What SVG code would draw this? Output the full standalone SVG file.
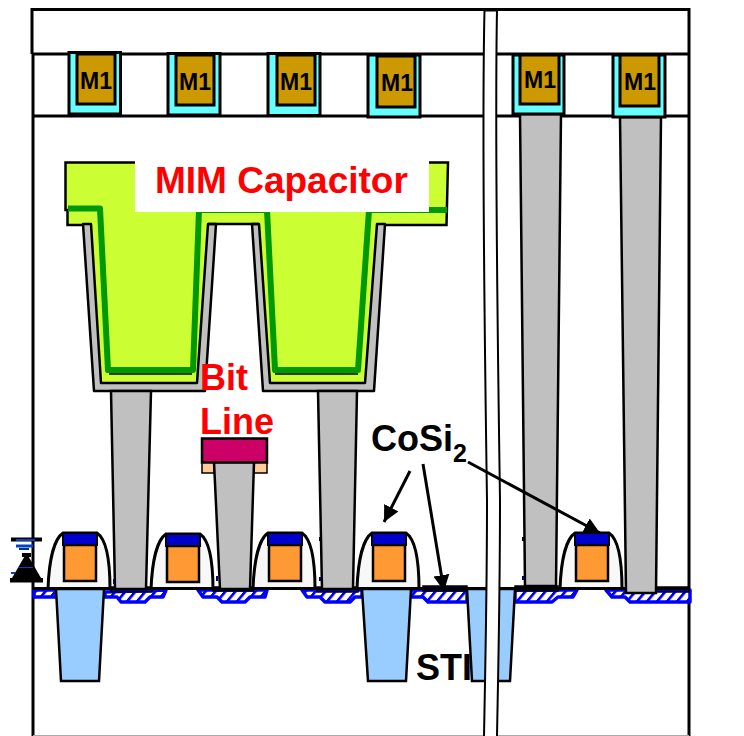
<svg xmlns="http://www.w3.org/2000/svg" width="744" height="736" viewBox="0 0 744 736">
<style>
.ln{fill:none;stroke:#000;stroke-width:3}
.cy{fill:#66FFFF;stroke:#000;stroke-width:3}
.au{fill:#CC9900;stroke:#000;stroke-width:3}
.via{fill:#C0C0C0;stroke:#000;stroke-width:2.5}
.sti{fill:#99CCFF;stroke:#000;stroke-width:2.5}
.imp{fill:url(#hatch);stroke:#0000FF;stroke-width:3.5;stroke-linejoin:round}
.bar{fill:#0000CC;stroke:#000;stroke-width:1.5}
.lime{fill:#CCFF33}
.green{fill:none;stroke:#009900;stroke-width:6;stroke-linejoin:round}
.gray{fill:#C0C0C0;stroke:#000;stroke-width:2.5;stroke-linejoin:round}
.t{font-family:"Liberation Sans",Arial,sans-serif;font-weight:bold}
.m1{font-size:23px;fill:#000;text-anchor:middle}
.big{font-size:36px}
.red{fill:#FF0000}
.arr{fill:none;stroke:#000;stroke-width:3;marker-end:url(#head)}
</style>
<defs>
<pattern id="hatch" width="10" height="10" patternUnits="userSpaceOnUse" patternTransform="skewX(-40)">
<rect width="10" height="10" fill="#fff"/><rect width="3.500" height="10" fill="#0000FF"/>
</pattern>
<marker id="head" markerUnits="userSpaceOnUse" markerWidth="18" markerHeight="18" refX="16" refY="9" orient="auto">
<path d="M0,1L16,9L0,17Z" fill="#000"/>
</marker>
<g id="gate">
<path d="M-15,56C-14,28 -9,6 0,0L34,0C43,6 47,28 47,56" fill="#F8F8F8" stroke="#000" stroke-width="3"/>
<rect x="1" y="12" width="32" height="36" fill="#FF9933" stroke="#000" stroke-width="2.500"/>
<rect x="0" y="0" width="34" height="12" fill="#0000CC" stroke="#000" stroke-width="2"/>
</g>
</defs>
<rect width="744" height="736" fill="#fff"/>

<g id="frame">
<path class="ln" d="M32,54V9.500H689V54"/>
<path class="ln" d="M33,54V736M689,54V736"/>
<path class="ln" d="M32,54H689M33,116H689"/>
<path d="M33,735.500H689" stroke="#AAA" stroke-width="1" fill="none"/>
</g>

<g id="implants">
<path class="imp" d="M34,590V597H56V590Z"/>
<path class="imp" d="M105,592V597H117L121,602H145L150,597H163L166,590Z"/>
<path class="imp" d="M198,590L203,597H217L222,602H245L250,597H265L267,590Z"/>
<path class="imp" d="M302,590L307,597H320L325,602H350L355,597H362V590Z"/>
<path class="imp" d="M411,590V597H423L428,602H467V590Z"/>
<path class="imp" d="M515,590V602H552L558,597H573L577,590Z"/>
<path class="imp" d="M606,590L612,597H625L630,602H690V590Z"/>
<rect class="bar" x="111" y="587" width="41" height="5"/>
<rect class="bar" x="213" y="587" width="41" height="4"/>
<rect class="bar" x="317" y="587" width="41" height="5"/>
<rect class="bar" x="423" y="586" width="44" height="5"/>
<rect class="bar" x="515" y="586" width="43" height="5"/>
<rect class="bar" x="656" y="587" width="33" height="5"/>
</g>

<g id="gate-1"><use href="#gate" x="63" y="533"/></g>
<g id="gate-2"><use href="#gate" x="166" y="534"/></g>
<g id="gate-3"><use href="#gate" x="268" y="533"/></g>
<g id="gate-4"><use href="#gate" x="372" y="533"/></g>
<g id="gate-5"><use href="#gate" x="575" y="533"/></g>

<g id="surface"><path class="ln" d="M33,588.500H689"/></g>

<g id="sti-label"><text class="t big" x="416" y="680">STI</text></g>
<g id="sti-1"><path class="sti" d="M56,589H104L99,681H61Z"/></g>
<g id="sti-2"><path class="sti" d="M362,589H411L406,681H368Z"/></g>
<g id="sti-3"><path class="sti" d="M467,589H515L510,681H472Z"/></g>

<g id="mim-capacitor">
<path class="lime" d="M66,162H448L447,225H385L373,385H263L252,225H216L205,385H94L83,225H68V210H66Z"/>
<path d="M84,225L67.500,225V210L65.500,210L65.500,162.500H448L446.500,225H385" fill="none" stroke="#000" stroke-width="2.500"/>
<path class="gray" d="M83,224L94,391H205L216,224H208L197,383H101L91,224Z"/>
<path class="gray" d="M252,224L263,391H374L385,224H377L365,383H270L259,224Z"/>
<path d="M208,224H259" stroke="#000" stroke-width="2.500" fill="none"/>
<path class="green" d="M68,208.500H100L108,370H193L199,210H267L275,370H358L369,210H447"/>
<path d="M109,374H192M275,374H358" stroke="#000" stroke-width="1.500" fill="none"/>
</g>

<g id="mim-label">
<rect x="135" y="160" width="294" height="52" fill="#fff"/>
<text class="t red" font-size="37" x="155" y="193">MIM Capacitor</text>
</g>

<g id="via-1"><path class="via" d="M111,391H151L146,589H115Z"/></g>
<g id="via-3"><path class="via" d="M318,391H357L353,589H322Z"/></g>
<g id="via-5"><path class="via" d="M520,114H561L556,586H525Z"/></g>
<g id="via-6"><path class="via" d="M620,117H661L656,593H626Z"/></g>

<g id="bit-line">
<rect x="202" y="462" width="12" height="11" fill="#FFCC99" stroke="#000" stroke-width="1.500"/>
<rect x="254" y="462" width="13" height="11" fill="#FFCC99" stroke="#000" stroke-width="1.500"/>
<path class="via" d="M214,462H254L250,589H220Z"/>
<rect x="202" y="438.500" width="65" height="24" fill="#CC0066" stroke="#000" stroke-width="2.500"/>
<text class="t big red" x="200" y="390">Bit</text>
<text class="t big red" x="200" y="434">Line</text>
</g>

<g id="m1-1"><rect class="cy" x="69" y="52.500" width="51.500" height="61.500"/><rect class="au" x="77" y="54" width="38" height="50"/><text class="t m1" x="96" y="89">M1</text></g>
<g id="m1-2"><rect class="cy" x="168" y="53.500" width="52" height="61.500"/><rect class="au" x="176" y="55" width="38" height="50"/><text class="t m1" x="195" y="90">M1</text></g>
<g id="m1-3"><rect class="cy" x="268" y="53.500" width="52" height="62"/><rect class="au" x="277" y="55" width="38" height="50"/><text class="t m1" x="296" y="90">M1</text></g>
<g id="m1-4"><rect class="cy" x="368" y="55" width="52" height="62"/><rect class="au" x="377" y="56" width="38" height="51"/><text class="t m1" x="397" y="91">M1</text></g>
<g id="m1-5"><rect class="cy" x="513" y="55" width="51" height="59"/><rect class="au" x="520" y="55" width="39" height="49"/><text class="t m1" x="540" y="88">M1</text></g>
<g id="m1-6"><rect class="cy" x="613" y="55" width="52" height="62"/><rect class="au" x="620" y="55" width="39" height="51"/><text class="t m1" x="640" y="90">M1</text></g>

<g id="tear">
<path d="M484.500,10C482,120 484,300 487,500C487,600 485,680 484,736H497C498,680 500,600 500,500C497,300 495,120 497,10Z" fill="#fff"/>
<path d="M484.500,10C482,120 484,300 487,500C487,600 485,680 484,736M497,10C495,120 497,300 500,500C500,600 498,680 497,736" fill="none" stroke="#000" stroke-width="2"/>
<path d="M484.500,10H497" stroke="#000" stroke-width="3" fill="none"/>
</g>

<g id="marks" fill="#000">
<rect x="113" y="579" width="2" height="5" fill="#000066"/>
<rect x="216" y="576" width="2" height="5" fill="#000066"/>
<rect x="319" y="537" width="2" height="4"/>
<rect x="319" y="577" width="2" height="4" fill="#000066"/>
<rect x="522" y="537" width="2" height="4"/>
<rect x="522" y="576" width="2" height="4" fill="#000066"/>
</g>

<g id="hourglass">
<rect x="11" y="537.500" width="31" height="4" fill="#000"/>
<rect x="16" y="539" width="19" height="2" fill="#0044CC"/>
<rect x="16" y="544.500" width="17" height="3" fill="#0044CC"/>
<rect x="19" y="548" width="10" height="2" fill="#003399"/>
<rect x="22" y="553" width="9" height="4" fill="#000"/>
<path d="M26.500,553L41,578H12Z" fill="#000"/>
<rect x="18" y="567" width="15" height="1" fill="#0044CC"/>
<rect x="11" y="572" width="4" height="2" fill="#0044CC"/>
<rect x="10" y="578" width="33" height="4.500" fill="#000"/>
</g>

<g id="connectors">
<path class="arr" d="M410,471L384,522"/>
<path class="arr" d="M423,464L444,591"/>
<path class="arr" d="M468,462L600,533"/>
</g>

<g id="cosi-label">
<text class="t big" x="371" y="451">CoSi<tspan font-size="25px" dy="11">2</tspan></text>
</g>
</svg>
